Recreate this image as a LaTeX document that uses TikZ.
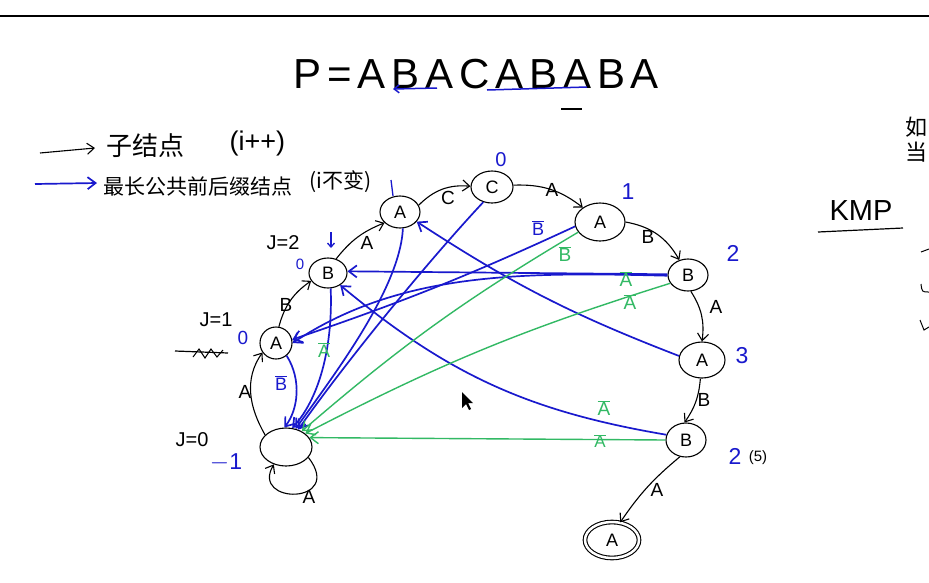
\documentclass[tikz,border=0pt]{standalone}
\usepackage{fontspec}
\setmainfont{Liberation Sans}
\newfontfamily\cjk{Noto Sans CJK SC}
\newfontfamily\titlefont[LetterSpace=14]{Liberation Sans}
\usetikzlibrary{shapes.geometric,arrows.meta}
\definecolor{pblue}{RGB}{25,25,205}
\definecolor{pgreen}{RGB}{50,185,100}
\begin{document}
\begin{tikzpicture}[x=1pt,y=1pt,
  st/.style={draw, ellipse, line width=1.1pt, inner sep=0pt, font=\fontsize{18}{18}\selectfont},
  blk/.style={line width=1.1pt, -{Straight Barb[length=7pt,width=11pt]}},
  bl/.style={pblue, line width=1.7pt, -{Straight Barb[length=8pt,width=12pt]}},
  gr/.style={pgreen, line width=1.4pt, -{Straight Barb[length=8pt,width=12pt]}},
  lab/.style={font=\fontsize{19}{19}\selectfont},
  blab/.style={pblue, font=\fontsize{23}{23}\selectfont},
  glab/.style={pgreen, font=\fontsize{19}{19}\selectfont},
  jlab/.style={font=\fontsize{20}{20}\selectfont},
]
\useasboundingbox (0,0) rectangle (929,-582);
\fill[white] (0,0) rectangle (929,-582);
\draw[line width=2pt] (0,-16) -- (929,-16);

% title
\node[anchor=west, font=\titlefont\fontsize{42}{42}\selectfont, inner sep=0pt] (title) at (293,-74) {P=ABACABABA};
\draw[pblue, line width=1.5pt, -{Straight Barb[length=5pt,width=8pt]}] (437,-88) -- (393,-89);
\draw[pblue, line width=1.5pt] (487,-90) -- (587,-87);
\draw[line width=1.5pt] (561,-109) -- (582,-109);

% legend
\draw[blk] (40,-153) -- (95,-148);
\node[anchor=west, font=\cjk\fontsize{26}{26}\selectfont] (l1) at (103,-146) {子结点};
\node[anchor=west, font=\fontsize{27}{27}\selectfont] (l1b) at (226,-144) {(i++)};
\draw[bl] (35,-184) -- (97,-183);
\node[anchor=west, font=\cjk\fontsize{21}{21}\selectfont] (l2) at (100,-186) {最长公共前后缀结点};
\node[anchor=west, font=\cjk\fontsize{21}{21}\selectfont] (l2b) at (306,-182) {(i不变)};

% right side
\node[anchor=west, font=\cjk\fontsize{22}{22}\selectfont] (r1) at (902,-127) {如};
\node[anchor=west, font=\cjk\fontsize{22}{22}\selectfont] (r2) at (902,-152) {当};
\node[font=\fontsize{29}{29}\selectfont] (kmp) at (861,-211) {KMP};
\draw[line width=1.2pt] (818,-232) -- (903,-228);
\draw[line width=1pt] (921,-252) -- (929,-249);
\draw[line width=1pt] (921,-284) .. controls (922,-292) .. (929,-292);
\draw[line width=1pt] (920,-320) -- (924,-330) -- (929,-327);

% nodes
\node[st, minimum width=52, minimum height=38] (n0) at (286,-447) {};
\node[st, minimum width=32, minimum height=32] (n1) at (276,-343) {A};
\node[st, minimum width=38, minimum height=30] (n2) at (328,-273) {B};
\node[st, minimum width=40, minimum height=32] (n3) at (400,-212) {A};
\node[st, minimum width=42, minimum height=32] (n4) at (492,-187) {C};
\node[st, minimum width=50, minimum height=38] (n5) at (600,-222) {A};
\node[st, minimum width=40, minimum height=32] (n6) at (688,-275) {B};
\node[st, minimum width=46, minimum height=36] (n7) at (702,-360) {A};
\node[st, minimum width=40, minimum height=34] (n8) at (686,-440) {B};
\node[st, minimum width=54, minimum height=36, double, double distance=2.5pt] (n9) at (612,-540) {A};

% child edges
\draw[blk] (n0.150) to[out=120,in=235] (n1.215);
\node[lab] (e01) at (245,-392) {A};
\draw[blk] (n0.-25) .. controls (345,-505) and (250,-505) .. (n0.235);
\node[lab] (e00) at (309,-497) {A};
\draw[blk] (n1.80) to[bend left=20] (n2.205);
\node[lab] (e12) at (286,-305) {B};
\draw[blk] (n2.60) to[bend left=15] (n3.215);
\node[lab] (e23) at (367,-243) {A};
\draw[blk] (n3.20) to[bend left=25] (n4.178);
\node[lab] (e34) at (448,-198) {C};
\draw[blk] (n4.5) to[bend left=20] (n5.140);
\node[lab] (e45) at (552,-190) {A};
\draw[blk] (n5.0) to[bend left=25] (n6.120);
\node[lab] (e56) at (648,-237) {B};
\draw[blk] (n6.-80) to[bend left=20] (n7.90);
\node[lab] (e67) at (716,-307) {A};
\draw[blk] (n7.-95) to[bend left=15] (n8.95);
\node[lab] (e78) at (704,-400) {B};
\draw[blk] (n8.-110) to[bend right=8] (n9.65);
\node[lab] (e89) at (657,-490) {A};

% blue failure edges
\draw[bl] (n1.-50) .. controls (302,-380) and (298,-410) .. (n0.95);
\draw[bl] (n2.-80) .. controls (333,-350) and (318,-400) .. (n0.72);
\draw[bl] (n3.-80) .. controls (400,-290) and (330,-380) .. (n0.62);
\draw[bl] (n4.-120) .. controls (420,-270) and (340,-370) .. (n0.55);
\draw[bl] (n5.190) to[bend left=3] (n1.12);
\draw[bl] (n6.182) .. controls (520,-272) and (400,-272) .. (n1.0);
\draw[bl] (n6.178) -- (n2.5);
\draw[bl] (n7.170) to[bend left=6] (n3.-30);
\draw[bl] (n8.165) to[bend left=15] (n2.-45);

% green edges
\draw[gr] (n5.205) to[bend right=5] (n0.45);
\draw[gr] (n6.205) to[bend right=5] (n0.35);
\draw[gr] (n8.180) -- (n0.22);

% edge labels
\node[blab, font=\fontsize{18}{18}\selectfont] (lb10) at (281,-383) {$\overline{\mbox{B}}$};
\node[glab, font=\fontsize{18}{18}\selectfont] (lg20) at (324,-350) {$\overline{\mbox{A}}$};
\node[blab, font=\fontsize{18}{18}\selectfont] (lb51) at (538,-228) {$\overline{\mbox{B}}$};
\node[glab] (lg50) at (565,-254) {$\overline{\mbox{B}}$};
\node[glab] (lg6a) at (626,-279) {$\overline{\mbox{A}}$};
\node[glab] (lg6b) at (630,-302) {$\overline{\mbox{A}}$};
\node[glab] (lg8a) at (604,-408) {$\overline{\mbox{A}}$};
\node[glab, font=\fontsize{17}{17}\selectfont] (lg8b) at (600,-441) {$\overline{\mbox{A}}$};

% blue values
\node[blab, font=\fontsize{20}{20}\selectfont] (v4) at (501,-160) {0};
\node[blab] (v5) at (628,-192) {1};
\node[blab] (v6) at (733,-253) {2};
\node[blab] (v7) at (742,-356) {3};
\node[blab] (v8) at (735,-456) {2};
\draw[pblue, line width=1.3pt] (391,-180) -- (393,-196);
\node[blab, font=\fontsize{15}{15}\selectfont] (v2) at (300,-264) {0};
\draw[pblue, line width=1.3pt, -{Straight Barb[length=4pt,width=7pt]}] (331,-232) -- (331,-248);
\node[blab, font=\fontsize{19}{19}\selectfont] (v1) at (243,-338) {0};
\node[blab] (v0) at (226,-463) {$-$1};

% j labels
\node[jlab] (j2) at (283,-243) {J=2};
\node[jlab] (j1) at (216,-320) {J=1};
\node[jlab] (j0) at (192,-440) {J=0};
\node[jlab, font=\fontsize{15}{15}\selectfont] (j5) at (758,-458) {(5)};
\draw[line width=1.2pt] (175,-351) -- (228,-353);
\draw[line width=1pt] (193,-357) -- (199,-349) -- (205,-358) -- (211,-349) -- (217,-357) -- (223,-350);

% cursor
\fill (462,-392) -- (462,-408) -- (466,-404) -- (469,-410) -- (471,-409) -- (468,-403) -- (473,-403) -- cycle;
\end{tikzpicture}
\end{document}
